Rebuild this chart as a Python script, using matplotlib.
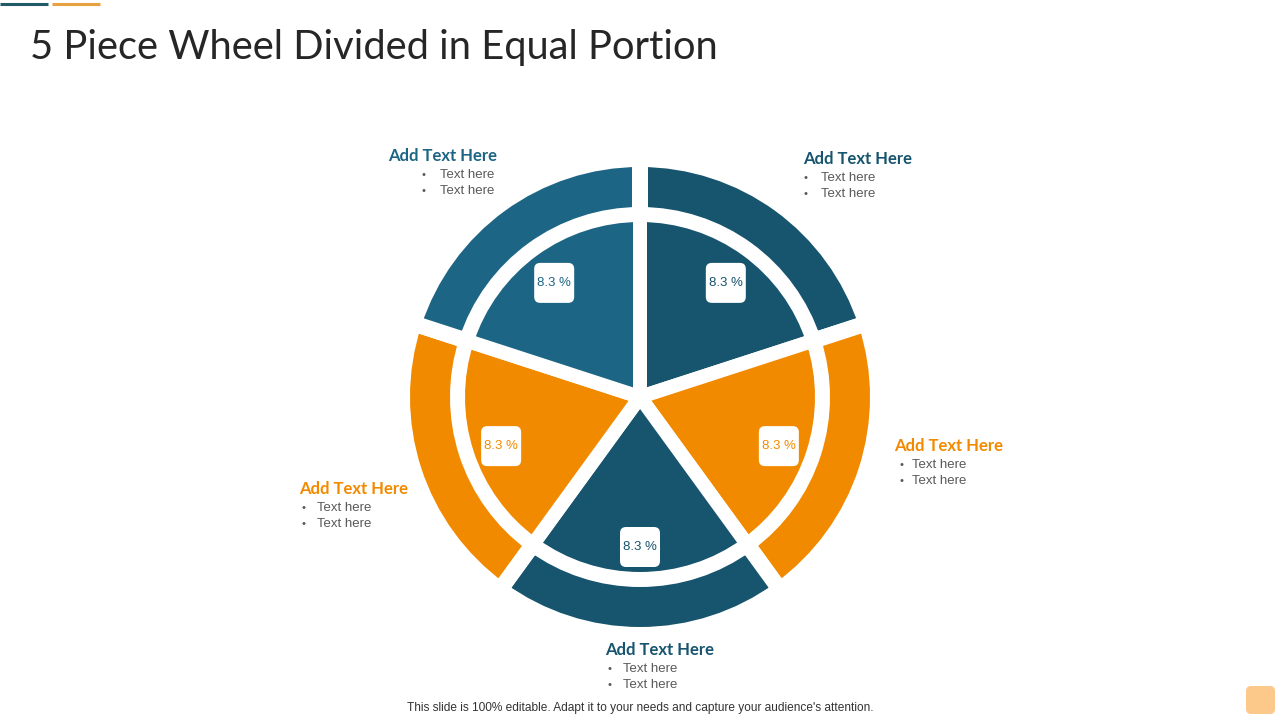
import matplotlib
matplotlib.use("Agg")
import matplotlib.pyplot as plt
from matplotlib.patches import FancyBboxPatch
import numpy as np

# ---- data ----
segment_values = [8.3, 8.3, 8.3, 8.3, 8.3]          # clockwise from top
segment_labels = ["8.3 %", "8.3 %", "8.3 %", "8.3 %", "8.3 %"]
BLUE_L = "#1D6584"
BLUE_D = "#17546E"
ORANGE = "#F28A00"
segment_colors = [BLUE_D, ORANGE, BLUE_D, ORANGE, BLUE_L]

title = "5 Piece Wheel Divided in Equal Portion"
heading = "Add Text Here"
bullets = ["Text here", "Text here"]
footer = "This slide is 100% editable. Adapt it to your needs and capture your audience's attention."

W, H = 1280, 720
fig = plt.figure(figsize=(12.8, 7.2), dpi=100)
ax = fig.add_axes([0, 0, 1, 1])

def Y(y):
    return H - y

cx, cy = 640, Y(397)
PX2PT = 72 / 100

# outer ring
ax.pie(segment_values, colors=segment_colors, startangle=90, counterclock=False,
       radius=238, center=(cx, cy),
       wedgeprops=dict(width=56, edgecolor="white", linewidth=16 * PX2PT))
# inner pie
wedges, texts = ax.pie(segment_values, colors=segment_colors, startangle=90, counterclock=False,
                       radius=182, center=(cx, cy), labels=segment_labels,
                       labeldistance=146 / 182,
                       wedgeprops=dict(edgecolor="white", linewidth=14 * PX2PT),
                       textprops=dict(ha="center", va="center", fontsize=9.5,
                                      family=["Liberation Sans Narrow", "Liberation Sans", "DejaVu Sans"]))
for t, c in zip(texts, segment_colors):
    t.set_color(c)
    t.set_zorder(5)
    x, y = t.get_position()
    y -= 4
    t.set_position((x, y))
    ax.add_patch(FancyBboxPatch((x - 20, y - 20), 40, 40,
                                boxstyle="round,pad=0,rounding_size=6",
                                fc="white", ec="none", zorder=4))

ax.set_xlim(0, W)
ax.set_ylim(0, H)
ax.set_aspect("auto")
ax.axis("off")

# title and decorations
ax.text(30, Y(48), title, fontsize=28.7, color="#262626",
        ha="left", va="center", family="Lato")
ax.plot([0, 48], [Y(4), Y(4)], color="#1F5A66", lw=2.2, solid_capstyle="butt")
ax.plot([52, 100], [Y(4), Y(4)], color="#E8A040", lw=2.2, solid_capstyle="butt")

# callouts: (title x, title y, bullet x, text x, first bullet y, colour)
callouts = [
    (388, 156, 422, 440, 175, BLUE_L),
    (803, 159, 804, 821, 178, BLUE_D),
    (894, 446, 899, 912, 465, ORANGE),
    (299, 489, 301, 317, 508, ORANGE),
    (605, 650, 607, 623, 669, BLUE_D),
]
for tx, ty, bx, txx, by, col in callouts:
    ax.text(tx, Y(ty), heading, fontsize=12, fontweight="bold", color=col,
            ha="left", va="center", family="Lato")
    for i, b in enumerate(bullets):
        yy = Y(by + 16 * i)
        ax.text(bx, yy, "•", fontsize=8, color="#595959", ha="left", va="center",
                family="Liberation Sans")
        ax.text(txx, yy, b, fontsize=9.5, color="#595959", ha="left", va="center",
                family="Liberation Sans")

ax.text(640, Y(708), footer, fontsize=8.6, color="#333333", ha="center", va="center",
        family="Liberation Sans")
ax.add_patch(FancyBboxPatch((1246, Y(714)), 29, 28, boxstyle="round,pad=0,rounding_size=5",
                            fc="#FDC98A", ec="none"))

fig.savefig("out.png", dpi=100)
